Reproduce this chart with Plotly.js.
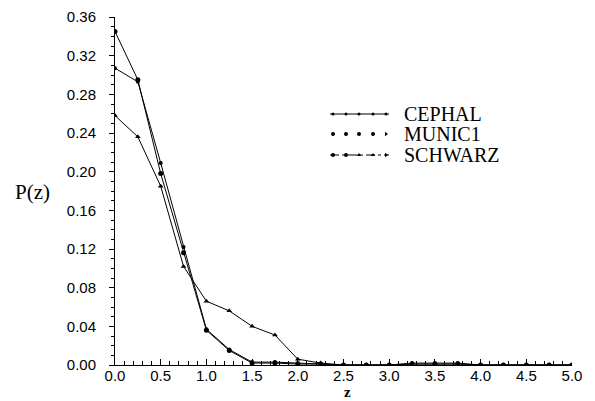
<!DOCTYPE html>
<html>
<head>
<meta charset="utf-8">
<script src="https://cdn.plot.ly/plotly-3.0.1.min.js"></script>
<style>html,body{margin:0;padding:0;background:#fff;}#chart{width:595px;height:401px;}</style>
</head>
<body>
<div id="chart"></div>
<script>
// ---- data ----
const z = [0, 0.25, 0.5, 0.75, 1.0, 1.25, 1.5, 1.75, 2.0, 2.25, 2.5, 2.75, 3.0, 3.25, 3.5, 3.75, 4.0, 4.25, 4.5, 4.75, 5.0];
const cephal = [0.307, 0.293, 0.209, 0.122, 0.037, 0.016, 0.003, 0.003, 0.002, 0.001, 0.000, 0.000, 0.000, 0.002, 0.002, 0.002, 0.000, 0.000, 0.000, 0.000, 0.000];
const munic1 = [0.345, 0.295, 0.198, 0.116, 0.036, 0.015, 0.002, 0.002, 0.001, 0.001, 0.000, 0.000, 0.000, 0.001, 0.001, 0.001, 0.000, 0.000, 0.000, 0.000, 0.000];
const schwarz = [0.258, 0.236, 0.185, 0.102, 0.066, 0.056, 0.040, 0.031, 0.006, 0.002, 0.000, 0.000, 0.000, 0.000, 0.000, 0.000, 0.000, 0.000, 0.000, 0.000, 0.000];
const seriesNames = ["CEPHAL", "MUNIC1", "SCHWARZ"];
const yTicks = [0.00, 0.04, 0.08, 0.12, 0.16, 0.20, 0.24, 0.28, 0.32, 0.36];
const xTicks = [0, 0.5, 1.0, 1.5, 2.0, 2.5, 3.0, 3.5, 4.0, 4.5, 5.0];
const xTitle = 'z';
const yTitle = 'P(z)';

// ---- styles ----
const styles = [
  {sym: 'circle', size: 4, legendDash: 'solid', legendLineWidth: 1},
  {sym: 'circle', size: 5, legendDash: 'solid', legendLineWidth: 0},
  {sym: 'triangle-up', size: 5, legendDash: 'dashdot', legendLineWidth: 1}
];
const seriesData = [cephal, munic1, schwarz];

const traces = seriesData.map((vals, i) => ({
  x: z, y: vals, name: seriesNames[i], mode: 'lines+markers', showlegend: false,
  line: {color: '#000', width: 1},
  marker: {symbol: styles[i].sym, size: styles[i].size, color: '#000'}
}));

// hand-drawn legend on an overlay axis whose units are pixels
const legendRowY = [114, 134, 155];
const legendSampleX = [333, 346, 359, 373, 386];
const legendSymbols = [
  ['circle','circle','circle','circle','circle'],
  ['circle','circle','circle','circle','triangle-right'],
  ['circle','circle','triangle-up','triangle-up','triangle-right']
];
seriesNames.forEach((n, i) => {
  const ys = legendSampleX.map(() => legendRowY[i]);
  if (styles[i].legendLineWidth > 0) {
    traces.push({x: [330, 389], y: [legendRowY[i], legendRowY[i]], xaxis: 'x2', yaxis: 'y2', mode: 'lines',
      showlegend: false, hoverinfo: 'skip', line: {color: '#000', width: 1, dash: styles[i].legendDash}});
  }
  traces.push({x: legendSampleX, y: ys, xaxis: 'x2', yaxis: 'y2', mode: 'markers', showlegend: false, hoverinfo: 'skip',
    marker: {symbol: legendSymbols[i], size: i === 0 ? 3 : 4, color: '#000'}});
});

const annotations = seriesNames.map((n, i) => ({
  x: 402, y: legendRowY[i], xref: 'x2', yref: 'y2', text: n, showarrow: false,
  xanchor: 'left', yanchor: 'middle', font: {family: 'Liberation Serif, serif', size: 20, color: '#000'}
}));
// axis titles placed in paper coordinates (plot area spans 115..572 x 17..365 px)
annotations.push({x: (32 - 115) / 457, y: (365 - 192) / 348, xref: 'paper', yref: 'paper', text: yTitle, showarrow: false,
  xanchor: 'center', yanchor: 'middle', font: {family: 'Liberation Serif, serif', size: 21, color: '#000'}});
annotations.push({x: (347 - 115) / 457, y: (365 - 401) / 348, xref: 'paper', yref: 'paper', text: '<b>' + xTitle + '</b>', showarrow: false,
  xanchor: 'center', yanchor: 'bottom', borderpad: 0, font: {family: 'Liberation Serif, serif', size: 15, color: '#000'}});

const layout = {
  width: 595, height: 401,
  margin: {l: 115, r: 23, t: 17, b: 36},
  paper_bgcolor: '#fff', plot_bgcolor: '#fff',
  showlegend: false,
  annotations: annotations,
  xaxis: {range: [0, 5.0], tickvals: xTicks, ticktext: xTicks.map(v => v.toFixed(1)),
    showgrid: false, zeroline: false, showline: true, linecolor: '#000', linewidth: 1,
    ticks: 'inside', ticklen: 6, tickcolor: '#000', ticklabelstandoff: -3,
    minor: {dtick: 0.1, ticks: 'inside', ticklen: 4, tickcolor: '#000'},
    tickfont: {family: 'Liberation Sans, Arial, sans-serif', size: 15, color: '#000'}},
  yaxis: {range: [0, 0.36], tickvals: yTicks, ticktext: yTicks.map(v => v.toFixed(2)),
    showgrid: false, zeroline: false, showline: true, linecolor: '#000', linewidth: 1,
    ticks: 'outside', ticklen: 5, tickcolor: '#000', ticklabelstandoff: 10,
    minor: {dtick: 0.01, ticks: 'outside', ticklen: 3, tickcolor: '#000'},
    tickfont: {family: 'Liberation Sans, Arial, sans-serif', size: 15, color: '#000'}},
  xaxis2: {overlaying: 'x', range: [115, 572], visible: false, fixedrange: true},
  yaxis2: {overlaying: 'y', range: [365, 17], visible: false, fixedrange: true}
};

Plotly.newPlot('chart', traces, layout, {staticPlot: true, displayModeBar: false});
</script>
</body>
</html>
